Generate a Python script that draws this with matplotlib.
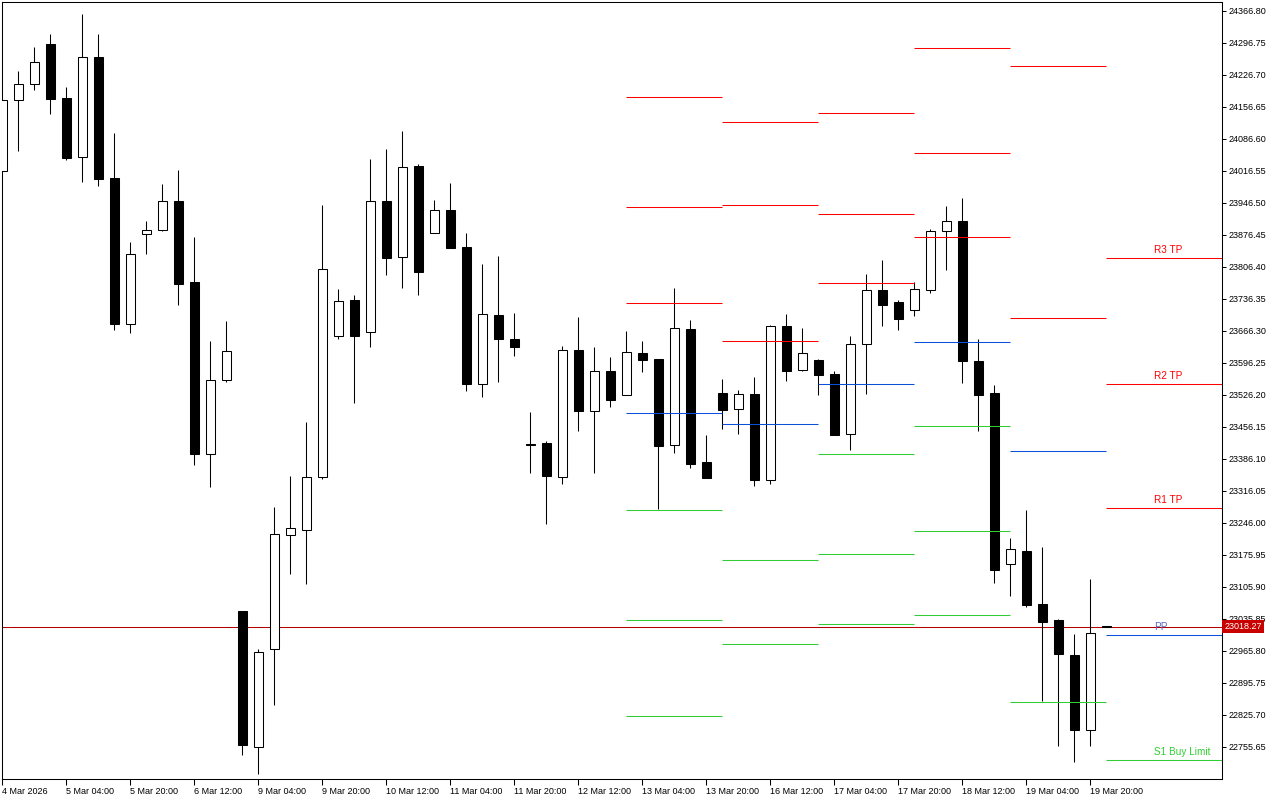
import numpy as np
import matplotlib.pyplot as plt
from matplotlib.patches import Rectangle

plt.rcParams['font.family'] = ['Liberation Sans', 'DejaVu Sans']

# H4 candles, 4 Mar 12:00 .. 20 Mar 00:00
opens = [24015.2, 24170.6, 24205.7, 24293.9, 24175.0, 24045.9, 24264.8, 23999.9, 23680.3, 23877.3,
         23886.1, 23950.2, 23772.2, 23395.7, 23557.7, 23052.7, 22754.4, 22968.9, 23218.4, 23229.4,
         23345.4, 23654.0, 23733.5, 23662.8, 23950.2, 23827.0, 24026.8, 23879.5, 23930.5, 23849.5,
         23549.0, 23700.7, 23648.1, 23417.3, 23420.5, 23345.4, 23624.1, 23489.9, 23578.1, 23524.9,
         23617.5, 23604.3, 23415.4, 23670.0, 23378.2, 23529.9, 23494.2, 23527.7, 23338.8, 23676.6,
         23580.9, 23602.2, 23571.5, 23439.5, 23636.5, 23755.4, 23729.1, 23711.0, 23755.8, 23883.7,
         23906.7, 23600.0, 23529.5, 23154.7, 23184.1, 23067.6, 23033.0, 22955.5, 22793.3, 23018.9]
highs = [24171.3, 24234.8, 24287.3, 24315.8, 24199.8, 24359.6, 24315.8, 24099.1, 23860.5, 23906.4,
         23987.4, 24018.1, 23871.4, 23643.8, 23687.5, 23052.7, 22969.5, 23280.4, 23348.2, 23466.4,
         23941.5, 23757.6, 23744.4, 24042.2, 24064.0, 24103.4, 24031.2, 23952.4, 23989.6, 23880.2,
         23812.3, 23829.8, 23705.0, 23488.3, 23424.9, 23632.8, 23696.3, 23630.6, 23608.7, 23665.6,
         23643.8, 23604.3, 23759.8, 23689.7, 23438.0, 23560.6, 23536.5, 23565.0, 23678.8, 23702.9,
         23672.2, 23604.3, 23578.1, 23654.7, 23790.4, 23821.1, 23733.5, 23772.9, 23888.9, 23939.3,
         23956.8, 23648.1, 23547.4, 23212.3, 23272.9, 23192.4, 23035.2, 23001.7, 23122.1, 23018.9]
lows = [24015.2, 24060.3, 24193.9, 24141.3, 24040.6, 23992.5, 23983.7, 23668.5, 23661.9, 23834.9,
        23884.5, 23723.2, 23373.0, 23324.8, 23554.7, 22738.2, 22696.6, 22847.0, 23134.4, 23112.5,
        23342.3, 23648.8, 23508.7, 23631.3, 23788.9, 23760.4, 23745.1, 23879.5, 23848.0, 23535.0,
        23521.8, 23554.7, 23611.6, 23355.5, 23243.8, 23331.4, 23447.4, 23355.5, 23499.9, 23524.9,
        23575.2, 23276.0, 23399.2, 23366.4, 23343.9, 23451.8, 23440.8, 23327.0, 23331.4, 23556.9,
        23578.7, 23526.2, 23438.6, 23405.8, 23528.4, 23677.2, 23668.5, 23699.1, 23749.5, 23799.8,
        23552.7, 23445.9, 23114.9, 23084.5, 23060.4, 22855.1, 22757.6, 22723.1, 22757.6, 23018.0]
closes = [24171.3, 24205.7, 24253.8, 24174.2, 24045.0, 24264.8, 23999.0, 23681.6, 23833.5, 23886.1,
          23949.6, 23769.2, 23397.1, 23557.7, 23621.2, 22760.1, 22963.0, 23220.6, 23233.8, 23345.4,
          23801.4, 23730.7, 23655.4, 23949.6, 23826.1, 24024.0, 23795.5, 23929.9, 23848.0, 23550.3,
          23702.2, 23648.8, 23631.3, 23416.3, 23348.9, 23624.1, 23491.2, 23577.4, 23515.3, 23619.0,
          23602.8, 23414.6, 23671.6, 23375.2, 23344.5, 23493.4, 23527.1, 23340.1, 23676.6, 23578.7,
          23616.8, 23570.0, 23438.6, 23636.5, 23754.7, 23723.2, 23692.6, 23756.9, 23884.5, 23905.6,
          23600.9, 23526.4, 23143.1, 23188.2, 23066.7, 23028.9, 22958.8, 22793.3, 23003.9, 23018.27]

x_labels = ["4 Mar 2026", "5 Mar 04:00", "5 Mar 20:00", "6 Mar 12:00", "9 Mar 04:00",
            "9 Mar 20:00", "10 Mar 12:00", "11 Mar 04:00", "11 Mar 20:00", "12 Mar 12:00",
            "13 Mar 04:00", "13 Mar 20:00", "16 Mar 12:00", "17 Mar 04:00", "17 Mar 20:00",
            "18 Mar 12:00", "19 Mar 04:00", "19 Mar 20:00"]

# daily pivot levels (13 Mar .. 19 Mar), segments start at the day's first candle
day_start = [39, 45, 51, 57, 63, 69]
res_levels = [[24177.2, 23936.4, 23726.3],
              [24122.5, 23940.8, 23643.1],
              [24142.2, 23921.1, 23770.1],
              [24285.8, 24054.4, 23872.1],
              [24245.9, 23695.0]]
pp_levels = [23485.5, 23461.4, 23549.0, 23640.7, 23403.8]
sup_levels = [[23273.2, 23032.4, 22822.2],
              [23163.7, 22979.8],
              [23395.7, 23176.8, 23023.6],
              [23458.3, 23227.0, 23044.6],
              [22854.0]]

# today's levels with labels
tp_names = ["R3 TP", "R2 TP", "R1 TP", "PP", "S1 Buy Limit"]
tp_levels = [23825.9, 23550.5, 23278.2, 23000.6, 22727.2]
tp_kind = ["r", "r", "r", "p", "s"]

bid = 23018.27

RED = '#ff0000'
BLUE = '#0a50d8'
GREEN = '#32cd32'
colors = {"r": RED, "p": BLUE, "s": GREEN}

fig = plt.figure(figsize=(12.8, 8), dpi=100)
ax = fig.add_axes([2.3/1280, 1 - 779.3/800, 1220/1280, 777/800])
x_max = 76.25
ax.set_xlim(0, x_max)
ax.set_ylim(22684.3, 24385.2)

lw = 0.75
bw = 0.5625
for i in range(len(opens)):
    o, h, l, c = opens[i], highs[i], lows[i], closes[i]
    bull = c >= o
    ax.vlines(i, l, h, color='black', lw=lw, zorder=3)
    ax.add_patch(Rectangle((i - bw/2, min(o, c)), bw, abs(c - o),
                           facecolor='white' if bull else 'black',
                           edgecolor='black', lw=lw, zorder=4))

# bid line
ax.axhline(bid, color='#b40000', lw=0.75, zorder=2)

# past day pivots
for k in range(len(pp_levels)):
    x0, x1 = day_start[k], day_start[k + 1]
    ax.hlines(res_levels[k], x0, x1, color=RED, lw=0.75, zorder=5)
    ax.hlines(pp_levels[k], x0, x1, color=BLUE, lw=0.75, zorder=5)
    ax.hlines(sup_levels[k], x0, x1, color=GREEN, lw=0.75, zorder=5)

# today's pivots with labels
for name, lev, kind in zip(tp_names, tp_levels, tp_kind):
    col = colors[kind]
    ax.hlines(lev, day_start[-1], x_max, color=col, lw=0.75, zorder=5)
    tcol = '#5b6abf' if kind == "p" else col
    ax.annotate(name, (72, lev), xytext=(0, 2), textcoords='offset points',
                ha='left', va='bottom', color=tcol, fontsize=7.2, zorder=6)

# axes styling
for s in ax.spines.values():
    s.set_linewidth(0.75)
    s.set_color('black')

ax.yaxis.tick_right()
yt = [24366.80 - 70.05*k for k in range(24)]
ax.set_yticks(yt)
ax.set_yticklabels([f"{v:.2f}" for v in yt])
ax.tick_params(axis='y', direction='out', length=3, width=0.75, labelsize=6.5, pad=1.5)

ax.set_xticks(list(range(0, 69, 4)))
ax.set_xticklabels(x_labels)
for t in ax.get_xticklabels():
    t.set_horizontalalignment('left')
ax.tick_params(axis='x', direction='out', length=4.3, width=0.75, labelsize=6.5, pad=1)

ax.text(1.002, bid, f"{bid:.2f}", transform=ax.get_yaxis_transform(),
        ha='left', va='center', color='white', fontsize=6.5, zorder=10, clip_on=False,
        bbox=dict(boxstyle='square,pad=0.25', fc='#c80000', ec='none'))

fig.savefig('out.png', dpi=100)
